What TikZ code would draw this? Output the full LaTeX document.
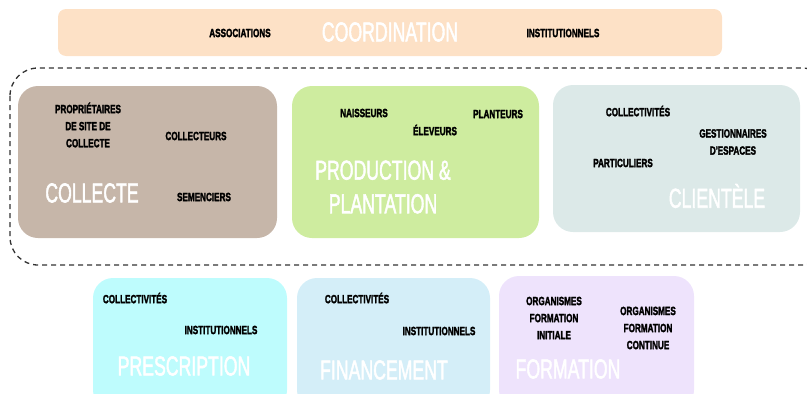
\documentclass[tikz,border=0pt]{standalone}
\usepackage{fontspec}
\newfontfamily\labfamily{Liberation Sans}
\newfontfamily\ttlfamily{Liberation Sans}
\newcommand{\thicktext}[2]{\special{pdf:literal direct 2 Tr #1 w}#2\special{pdf:literal direct 0 Tr}}
\definecolor{ccoord}{HTML}{FDE1C6}
\definecolor{ccoll}{HTML}{C6B6A9}
\definecolor{cprod}{HTML}{CEEC9F}
\definecolor{cclient}{HTML}{DCE9E8}
\definecolor{cpresc}{HTML}{BEFCFD}
\definecolor{cfin}{HTML}{D4EEF8}
\definecolor{cform}{HTML}{EEE3FC}
\definecolor{cdash}{HTML}{333333}
\begin{document}
\begin{tikzpicture}[x=1pt,y=-1pt,
  boxshape/.style={rounded corners=20pt},
  lab/.style={font=\labfamily\bfseries\fontsize{11}{15.8}\selectfont, text=black, align=center, xscale=0.74, yscale=1.08, inner sep=0pt},
  ttl/.style={font=\ttlfamily\fontsize{26}{32}\selectfont, text=white, align=center, xscale=0.68, yscale=1.05, inner sep=0pt}]
\useasboundingbox (0,0) rectangle (807,394);
% top coordination band
\fill[ccoord, rounded corners=8pt] (58,9) rectangle (722,56);
\node[lab] (assoc) at (240,33) {\thicktext{0.3}{ASSOCIATIONS}};
\node[ttl] (coord) at (390,32) {\thicktext{0.6}{COORDINATION}};
\node[lab] (inst0) at (563,33) {\thicktext{0.3}{INSTITUTIONNELS}};
% dashed enclosure
\draw[cdash, line width=1.3pt, dash pattern=on 5pt off 4pt, rounded corners=28pt] (10,68) rectangle (830,265);
% collecte
\fill[ccoll, boxshape] (18,86) rectangle (277,238);
\node[lab] (prop) at (88,125) {\thicktext{0.3}{PROPRIÉTAIRES\\DE SITE DE\\COLLECTE}};
\node[lab] (collr) at (196,136) {\thicktext{0.3}{COLLECTEURS}};
\node[ttl] (coll) at (92,193) {\thicktext{0.6}{COLLECTE}};
\node[lab] (sem) at (204,197) {\thicktext{0.3}{SEMENCIERS}};
% production
\fill[cprod, boxshape] (292,86) rectangle (539,238);
\node[lab] (nais) at (364,113) {\thicktext{0.3}{NAISSEURS}};
\node[lab] (elev) at (435,130) {\thicktext{0.3}{ÉLEVEURS}};
\node[lab] (plant) at (498,114) {\thicktext{0.3}{PLANTEURS}};
\node[ttl] (prod) at (383,187) {\thicktext{0.6}{PRODUCTION \&\\PLANTATION}};
% clientele
\fill[cclient, boxshape] (553,85) rectangle (800,232);
\node[lab] (collc) at (638,111) {\thicktext{0.3}{COLLECTIVITÉS}};
\node[lab] (gest) at (733,142) {\thicktext{0.3}{GESTIONNAIRES\\D'ESPACES}};
\node[lab] (part) at (623,163) {\thicktext{0.3}{PARTICULIERS}};
\node[ttl] (client) at (717,196) {\thicktext{0.6}{CLIENTÈLE}};
% prescription
\fill[cpresc, boxshape] (93,278) rectangle (287,410);
\node[lab] (collp) at (135,298) {\thicktext{0.3}{COLLECTIVITÉS}};
\node[lab] (instp) at (221,330) {\thicktext{0.3}{INSTITUTIONNELS}};
\node[ttl] (presc) at (184,366) {\thicktext{0.6}{PRESCRIPTION}};
% financement
\fill[cfin, boxshape] (297,278) rectangle (490,410);
\node[lab] (collf) at (357,298) {\thicktext{0.3}{COLLECTIVITÉS}};
\node[lab] (instf) at (439,331) {\thicktext{0.3}{INSTITUTIONNELS}};
\node[ttl] (fin) at (384,370) {\thicktext{0.6}{FINANCEMENT}};
% formation
\fill[cform, boxshape] (499,276) rectangle (694,410);
\node[lab] (orgi) at (554,318) {\thicktext{0.3}{ORGANISMES\\FORMATION\\INITIALE}};
\node[lab] (orgc) at (648,328) {\thicktext{0.3}{ORGANISMES\\FORMATION\\CONTINUE}};
\node[ttl] (form) at (568,369) {\thicktext{0.6}{FORMATION}};
\end{tikzpicture}
\end{document}
